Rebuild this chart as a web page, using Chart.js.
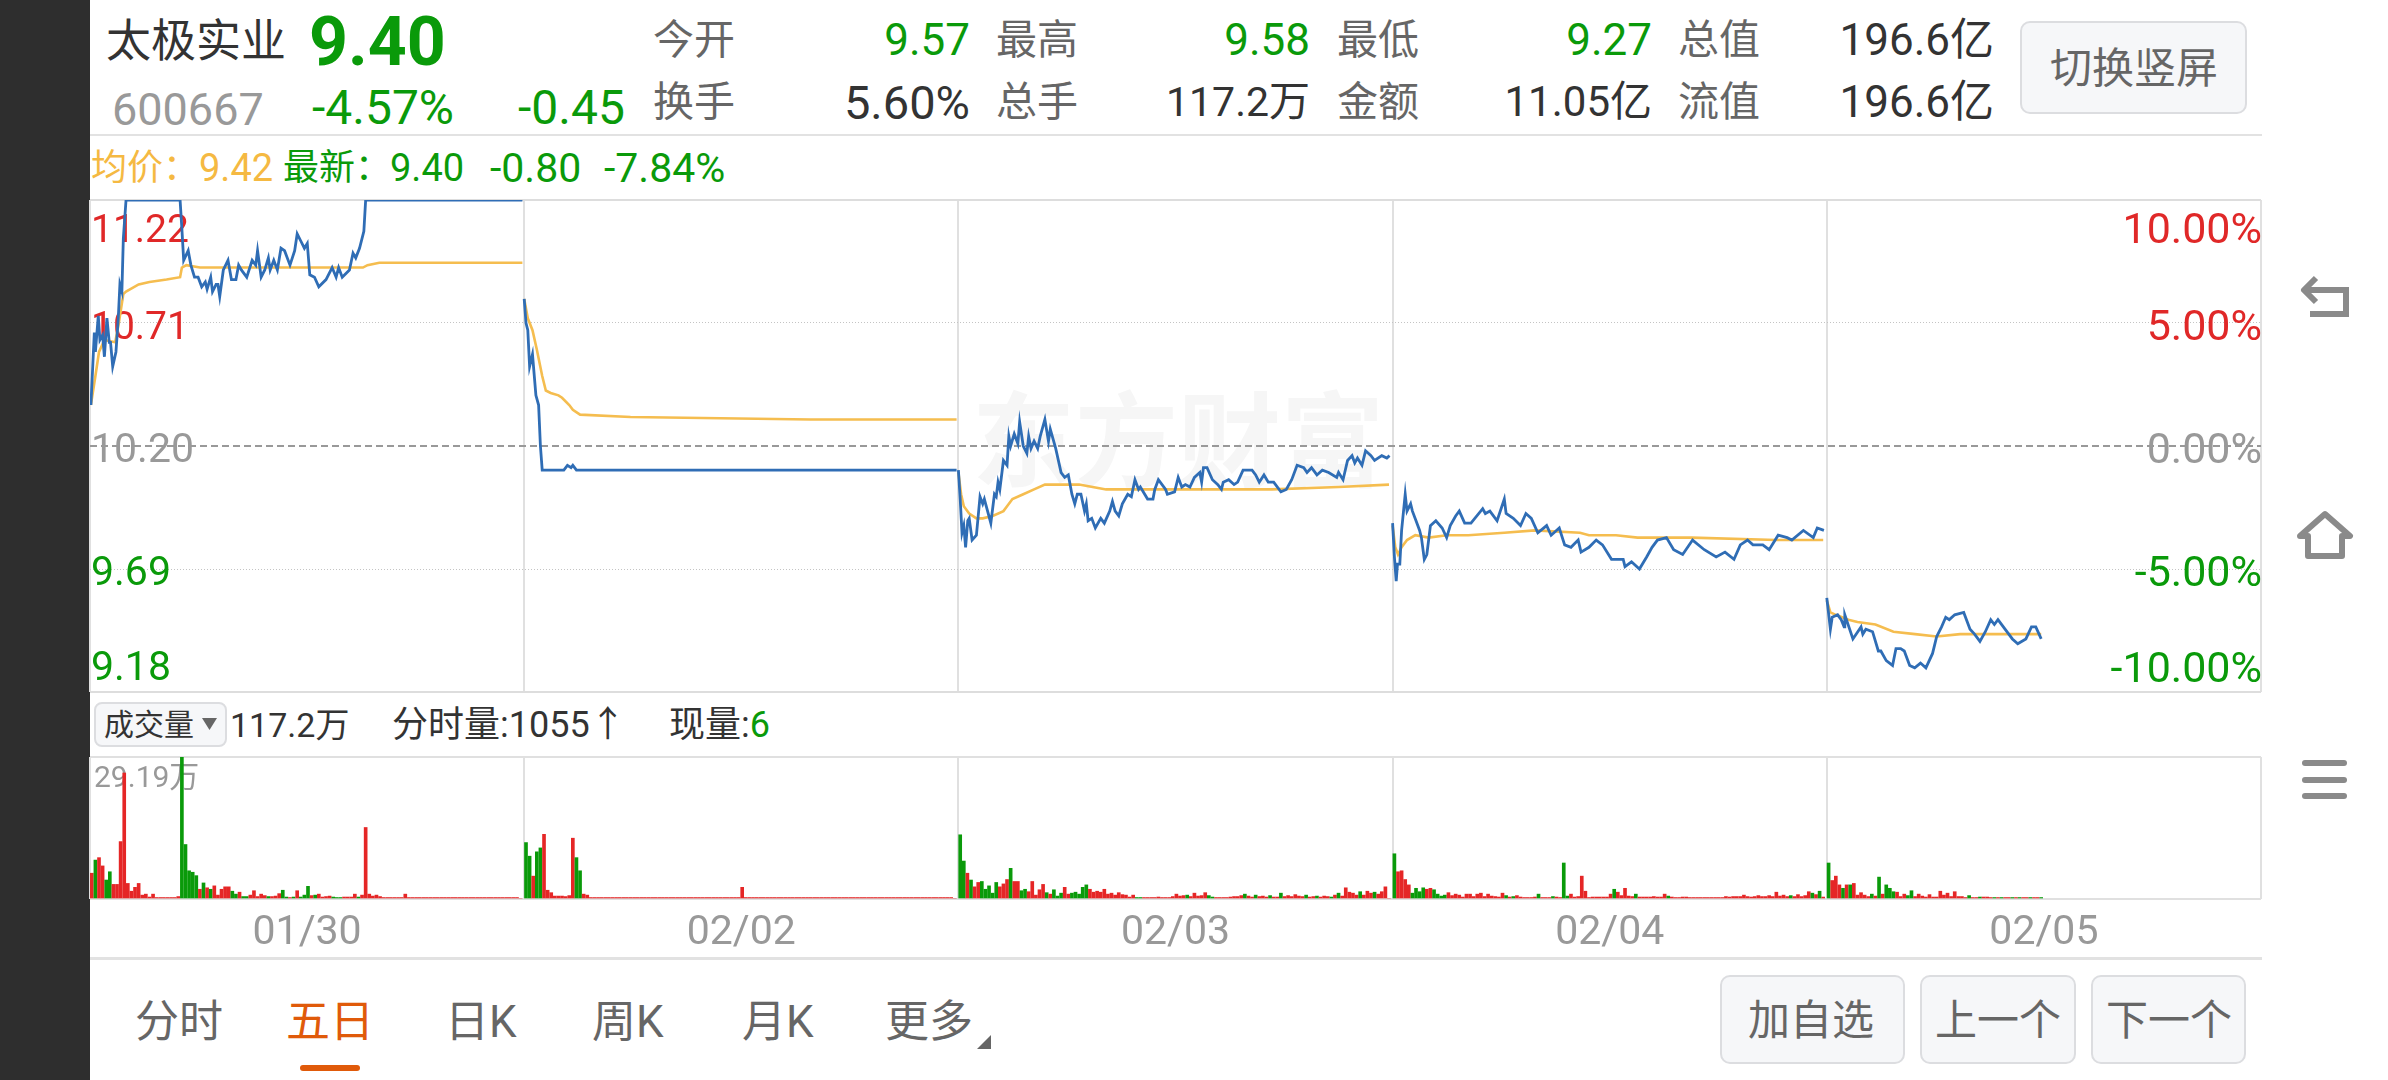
<!DOCTYPE html>
<html>
<head>
<meta charset="utf-8">
<title>太极实业 五日</title>
<script src="https://cdn.jsdelivr.net/npm/chart.js@4"></script>
<style>
html, body { margin: 0; padding: 0; background: #fff; }
body { width: 2388px; height: 1080px; position: relative; overflow: hidden; font-family: Roboto, "Noto Sans CJK SC", sans-serif; }
.t { position: absolute; white-space: nowrap; transform: translateY(-50%); line-height: 1; }
.box { position: absolute; background: #f6f7f9; border: 2px solid #dcdde0; border-radius: 10px; box-sizing: border-box; }
.rule { position: absolute; left: 90px; width: 2172px; height: 2px; background: #e2e2e2; }
.g { color: #0a9a0a; }
.k { color: #333; }
.m { color: #666; }
.s { font-size: 41px; }
.n { font-size: 44px; }
.b { font-size: 44px; }
canvas { position: absolute; }
</style>
</head>
<body>
<div style="position:absolute;left:0;top:0;width:90px;height:1080px;background:#2e2e2e"></div>

<!-- header -->
<div class="t k" style="left:106px;top:41px;font-size:45px">太极实业</div>
<div class="t g" style="left:309px;top:42px;font-size:68px;font-weight:700">9.40</div>
<div class="t" style="left:112px;top:109px;font-size:45px;color:#999">600667</div>
<div class="t g" style="left:312px;top:108px;font-size:48px">-4.57%</div>
<div class="t g" style="left:518px;top:108px;font-size:48px">-0.45</div>

<div class="t m s" style="left:653px;top:40px">今开</div>
<div class="t g n" style="right:1418px;top:40px">9.57</div>
<div class="t m s" style="left:996px;top:40px">最高</div>
<div class="t g n" style="right:1078px;top:40px">9.58</div>
<div class="t m s" style="left:1337px;top:40px">最低</div>
<div class="t g n" style="right:736px;top:40px">9.27</div>
<div class="t m s" style="left:1678px;top:40px">总值</div>
<div class="t k n" style="right:394px;top:40px">196.6亿</div>

<div class="t m s" style="left:653px;top:102px">换手</div>
<div class="t k" style="right:1418px;top:102px;font-size:47px">5.60%</div>
<div class="t m s" style="left:996px;top:102px">总手</div>
<div class="t k" style="right:1078px;top:102px;font-size:41px">117.2万</div>
<div class="t m s" style="left:1337px;top:102px">金额</div>
<div class="t k" style="right:736px;top:102px;font-size:42px">11.05亿</div>
<div class="t m s" style="left:1678px;top:102px">流值</div>
<div class="t k n" style="right:394px;top:102px">196.6亿</div>

<div class="box" style="left:2020px;top:21px;width:227px;height:93px"></div>
<div class="t m" style="left:2050px;top:69px;font-size:42px">切换竖屏</div>

<div class="rule" style="top:134px"></div>

<!-- legend row -->
<div class="t" style="left:91px;top:168px;font-size:36px;color:#f5b942">均价：</div>
<div class="t" style="left:199px;top:168px;font-size:38px;color:#f5b942">9.42</div>
<div class="t g" style="left:283px;top:168px;font-size:36px">最新：</div>
<div class="t g" style="left:390px;top:168px;font-size:38px">9.40</div>
<div class="t g" style="left:490px;top:168px;font-size:41px">-0.80</div>
<div class="t g" style="left:604px;top:168px;font-size:41px">-7.84%</div>

<!-- watermark -->
<div class="t" style="left:972px;top:443px;font-size:103px;font-weight:700;color:#f6f6f6">东方财富</div>

<canvas id="priceChart" style="left:88px;top:198px" width="2175" height="496"></canvas>

<!-- volume header -->
<div class="box" style="left:94px;top:702px;width:133px;height:45px;border-radius:8px"></div>
<div class="t k" style="left:104px;top:725px;font-size:30px">成交量</div>
<svg style="position:absolute;left:202px;top:718px" width="16" height="13"><path d="M0 0H15L7.5 12Z" fill="#666"/></svg>
<div class="t k" style="left:230px;top:725px;font-size:34px">117.2万</div>
<div class="t k" style="left:392px;top:725px;font-size:36px">分时量:1055↑</div>
<div class="t k" style="left:669px;top:725px;font-size:36px">现量:<span class="g">6</span></div>

<canvas id="volumeChart" style="left:88px;top:756px" width="2175" height="200"></canvas>
<div class="rule" style="top:957px;height:3px"></div>

<!-- bottom tabs -->
<div class="t m b" style="left:135px;top:1022px">分时</div>
<div class="t b" style="left:286px;top:1022px;color:#e05a0a">五日</div>
<div class="t m b" style="left:445px;top:1022px">日K</div>
<div class="t m b" style="left:592px;top:1022px">周K</div>
<div class="t m b" style="left:742px;top:1022px">月K</div>
<div class="t m b" style="left:885px;top:1022px">更多</div>
<svg style="position:absolute;left:977px;top:1035px" width="14" height="14"><path d="M14 0V14H0Z" fill="#666"/></svg>
<div style="position:absolute;left:300px;top:1065px;width:60px;height:6px;border-radius:3px;background:#e05a0a"></div>

<div class="box" style="left:1720px;top:975px;width:185px;height:89px"></div>
<div class="t m" style="left:1748px;top:1021px;font-size:42px">加自选</div>
<div class="box" style="left:1920px;top:975px;width:156px;height:89px"></div>
<div class="t m" style="left:1935px;top:1021px;font-size:42px">上一个</div>
<div class="box" style="left:2091px;top:975px;width:155px;height:89px"></div>
<div class="t m" style="left:2106px;top:1021px;font-size:42px">下一个</div>

<!-- system nav icons -->
<svg style="position:absolute;left:2296px;top:270px" width="60" height="290" fill="none" stroke="#8a8a8a" stroke-width="6">
  <path d="M12 20H50V44H14"/>
  <path d="M20 8L8 20L20 32" stroke-linejoin="round"/>
  <path d="M4 266L29 244L54 266H46V286H12V266Z" stroke-linejoin="round"/>
</svg>
<svg style="position:absolute;left:2300px;top:760px" width="50" height="42" fill="#8a8a8a">
  <rect x="2" y="0" width="45" height="6" rx="3"/>
  <rect x="2" y="17" width="45" height="6" rx="3"/>
  <rect x="2" y="33" width="45" height="6" rx="3"/>
</svg>

<script>
const sessionMinutes = 241;
const totalMinutes = 1205;
const basePrice = 10.20;
const maxVolume = 29.19;

const priceTicks = [9.18, 9.69, 10.20, 10.71, 11.22];
const percentTicks = [-10, -5, 0, 5, 10];
const dateLabels = ['01/30', '02/02', '02/03', '02/04', '02/05'];

// [minute, price]
const priceDay1 = [[0.5,10.37],[2.4,10.67],[3,10.59],[4.6,10.74],[5.5,10.64],[7,10.66],[8,10.57],[9.4,10.73],[10.7,10.63],[11.4,10.63],[12.6,10.53],[14.4,10.59],[15.7,10.73],[16.6,10.87],[17.7,10.84],[18.5,11.06],[20,11.22],[50,11.22],[51,11.10],[52,10.97],[54.5,11.01],[56,10.95],[58,10.90],[60,10.90],[62,10.86],[64,10.88],[65,10.85],[67,10.90],[68,10.84],[70,10.87],[71,10.87],[72,10.82],[74,10.93],[76.6,10.97],[78.5,10.89],[81,10.89],[82.5,10.95],[84,10.93],[87,10.90],[90,10.97],[92,10.95],[93,11.01],[95,10.90],[97,10.93],[99,10.98],[100,10.93],[102,10.97],[104,10.93],[106,11.02],[108,11.01],[111,10.95],[113.6,11.01],[115,11.08],[117,11.05],[119,11.02],[120.6,11.04],[122,10.91],[124.6,10.90],[127,10.86],[131,10.89],[134.4,10.94],[136.6,10.90],[138,10.94],[140,10.90],[144,10.93],[146,11.00],[147.5,10.98],[149.6,11.02],[152,11.09],[153,11.22],[240,11.22]];
const priceDay2 = [[241,10.81],[242,10.71],[243,10.68],[244,10.53],[245.6,10.58],[247.5,10.41],[249,10.37],[250,10.20],[251,10.10],[263,10.10],[265,10.12],[267,10.11],[268,10.12],[270,10.10],[481,10.10]];
const priceDay3 = [[482,10.10],[483,9.98],[484,9.84],[485,9.87],[486,9.78],[487.2,9.89],[488,9.90],[489.6,9.81],[492,9.83],[494,9.99],[495.5,9.96],[496.4,9.98],[500,9.88],[502,10.00],[503,9.99],[504,10.05],[505,10.02],[507,10.14],[509,10.12],[510,10.24],[511,10.20],[513,10.25],[515,10.21],[516,10.30],[518,10.20],[520,10.17],[521,10.24],[522.3,10.19],[524,10.22],[526,10.19],[527.4,10.24],[530,10.31],[532,10.22],[533,10.27],[536,10.19],[539,10.09],[541,10.07],[543,10.08],[545,10.00],[546.6,9.96],[548,10.00],[550,10.00],[552,9.93],[553,9.96],[554,9.89],[556,9.90],[558,9.86],[561,9.90],[563,9.88],[566,9.93],[567.5,9.97],[569,9.93],[571,9.91],[573,9.96],[576,10.00],[578,9.99],[580,10.06],[582,10.02],[583,10.03],[587,9.98],[590,9.98],[591,10.02],[593,10.06],[597,10.02],[598,10.00],[602,10.01],[604,10.07],[606,10.03],[608,10.04],[610.5,10.03],[613,10.07],[616,10.09],[617,10.05],[618,10.11],[620,10.11],[623,10.06],[626,10.04],[628,10.02],[629,10.05],[632,10.06],[635,10.04],[637,10.05],[640,10.10],[642.6,10.10],[645,10.10],[647,10.08],[649,10.05],[651.6,10.08],[654,10.05],[657,10.05],[661,10.01],[664,10.02],[667,10.06],[670,10.12],[673.7,10.11],[675.5,10.09],[678,10.11],[681,10.08],[684,10.10],[687.5,10.09],[692,10.07],[693,10.09],[695.5,10.06],[698,10.14],[700.5,10.16],[702,10.13],[703.5,10.15],[706,10.12],[708,10.18],[711,10.16],[713,10.14],[717,10.16],[719.8,10.15],[721.3,10.16]];
const priceDay4 = [[723,9.88],[724,9.74],[725,9.64],[725.7,9.71],[727,9.71],[728,9.85],[730,10.00],[731,9.93],[733,9.96],[734,9.93],[736,9.89],[738,9.85],[739,9.82],[740.6,9.73],[742,9.75],[744,9.87],[747,9.89],[750.5,9.86],[753,9.82],[755,9.87],[758,9.91],[760,9.93],[763,9.88],[766.5,9.88],[773,9.94],[774.5,9.92],[777,9.93],[781,9.89],[785,9.98],[786,9.92],[790,9.90],[794,9.87],[797,9.92],[800,9.90],[803.6,9.84],[808.5,9.87],[811,9.83],[815.5,9.86],[818.5,9.79],[822,9.78],[826,9.81],[827.6,9.76],[832,9.78],[836,9.81],[839.5,9.79],[844.5,9.73],[851,9.73],[852,9.70],[855.6,9.72],[860,9.69],[864,9.74],[867,9.78],[870,9.81],[875,9.82],[879,9.77],[884,9.75],[889.5,9.81],[896,9.77],[902.6,9.74],[907.5,9.76],[912.5,9.73],[916,9.79],[920,9.81],[923,9.79],[928.5,9.79],[932,9.77],[937,9.83],[942,9.82],[944.6,9.81],[951,9.85],[956.5,9.82],[958.7,9.86],[962.4,9.85]];
const priceDay5 = [[964,9.57],[966,9.44],[967,9.49],[970,9.50],[972,9.48],[973.6,9.45],[974,9.50],[978.5,9.40],[983,9.45],[984,9.42],[985.7,9.44],[989.4,9.43],[992.6,9.35],[994,9.35],[997,9.31],[1000.5,9.29],[1002.4,9.36],[1005,9.36],[1007,9.35],[1010,9.29],[1012.8,9.28],[1016,9.30],[1019,9.28],[1022.7,9.34],[1025,9.41],[1027.7,9.45],[1030,9.49],[1032,9.48],[1035,9.50],[1040,9.51],[1043.5,9.44],[1046,9.42],[1049,9.39],[1052,9.43],[1055,9.48],[1057,9.46],[1059,9.48],[1062,9.45],[1067,9.40],[1070,9.38],[1074.5,9.40],[1077.6,9.45],[1080,9.45],[1083,9.40]];

const avgDay1 = [[0.5,10.37],[3,10.49],[5,10.59],[8,10.64],[14,10.63],[16,10.71],[18.5,10.83],[20,10.84],[27,10.87],[33,10.88],[42.5,10.89],[50,10.90],[51,10.94],[53.5,10.95],[61,10.94],[72,10.94],[94,10.94],[131,10.94],[151.5,10.94],[154,10.95],[160.6,10.96],[186.5,10.96],[240,10.96]];
const avgDay2 = [[241,10.81],[243,10.73],[245.6,10.68],[248,10.60],[251,10.49],[253,10.43],[255.7,10.42],[260,10.41],[262,10.40],[266,10.37],[268,10.35],[272,10.33],[300,10.32],[400,10.31],[481,10.31]];
const avgDay3 = [[482,10.09],[483.5,10.00],[485,9.95],[488,9.92],[492,9.90],[495.5,9.90],[501,9.91],[507,9.93],[509,9.95],[512,9.98],[518,10.00],[524,10.02],[530,10.04],[535,10.04],[542,10.04],[549,10.04],[556.5,10.03],[564,10.02],[573,10.02],[586,10.02],[619,10.02],[656,10.02],[693,10.03],[721,10.04]];
const avgDay4 = [[723,9.87],[724.5,9.78],[726,9.75],[728,9.78],[731,9.81],[735.6,9.83],[743,9.82],[753,9.83],[765,9.83],[785,9.84],[802,9.85],[827,9.84],[832,9.83],[847,9.83],[859,9.82],[889,9.82],[936,9.81],[962,9.81]];
const avgDay5 = [[964,9.56],[966,9.51],[969,9.50],[976,9.48],[981,9.47],[991,9.46],[1001,9.43],[1013,9.42],[1025,9.41],[1038,9.42],[1062,9.42],[1083,9.42]];

// volume in 万 per two minutes, minus means a down bar (green)
const volumeDay1 = [5.3,-8.0,8.5,6.8,-3.9,-5.6,3.0,3.0,11.8,25.9,3.2,1.6,2.4,3.2,0.8,1.0,0.4,1.0,0.3,0.3,0.3,0.3,0.3,0.3,0.5,-29.19,-11.2,-5.8,-5.5,-4.8,2.0,-3.3,2.3,-2.0,2.7,0.8,2.0,2.5,2.5,-1.6,-1.0,1.4,-0.5,-0.5,0.8,1.7,0.5,1.0,0.7,-0.5,0.5,0.6,1.1,-1.8,-0.4,0.3,-0.4,1.7,-0.4,-0.8,-2.6,0.7,-0.8,1.0,0.4,0.5,0.6,-0.4,-0.3,-0.3,0.4,0.4,0.4,1.0,-0.4,0.8,14.7,1.0,0.6,0.8,0.5,0.3,0.3,0.3,0.3,0.3,0.3,1.0,0.3,0.3,0.3,0.3,0.3,0.3,0.3,0.3,0.3,0.3,0.3,0.3,0.3,0.3,0.3,0.3,0.3,0.3,0.3,0.3,0.3,0.3,0.3,0.3,0.3,0.3,0.3,0.3,0.3,0.3,0.3,0];
const volumeDay2 = [-11.6,-8.8,4.7,-9.7,-10.5,13.3,1.8,1.3,0.6,0.6,0.6,0.5,0.7,12.5,-8.5,-5.8,1.0,0.8,0.3,0.3,0.3,0.3,0.3,0.3,0.3,0.3,0.3,0.3,0.3,0.3,0.3,0.3,0.3,0.3,0.3,0.3,0.3,0.3,0.3,0.3,0.3,0.3,0.3,0.3,0.3,0.3,0.3,0.3,0.3,0.3,0.3,0.3,0.3,0.3,0.3,0.3,0.3,0.3,0.3,0.3,2.4,0.3,0.3,0.3,0.3,0.3,0.3,0.3,0.3,0.3,0.3,0.3,0.3,0.3,0.3,0.3,0.3,0.3,0.3,0.3,0.3,0.3,0.3,0.3,0.3,0.3,0.3,0.3,0.3,0.3,0.3,0.3,0.3,0.3,0.3,0.3,0.3,0.3,0.3,0.3,0.3,0.3,0.3,0.3,0.3,0.3,0.3,0.3,0.3,0.3,0.3,0.3,0.3,0.3,0.3,0.3,0.3,0.3,0.3,0];
const volumeDay3 = [-13.2,-7.8,5.3,-3.9,2.5,3.4,-3.6,-2.0,-2.7,-1.2,-3.4,2.5,3.1,4.0,-6.3,3.6,3.6,-1.7,-2.0,1.5,3.6,0.8,1.9,3.0,-1.3,1.0,-1.9,-0.6,-1.2,2.4,1.0,-1.2,-1.4,-1.0,-2.4,-2.9,2.0,1.4,1.6,1.4,2.0,1.0,1.2,0.8,1.3,0.9,0.8,0.4,0.8,-0.3,-0.3,0.3,0.3,0.3,0.3,0.4,0.3,0.3,0.3,0.5,1.0,0.6,0.7,-0.8,0.5,1.2,0.6,0.7,1.3,-0.7,-0.4,0.3,0.3,0.3,0.3,0.4,0.5,0.5,0.7,-1.0,0.6,0.4,-0.8,0.5,0.6,0.4,-0.7,0.4,0.4,-1.2,0.5,0.7,0.5,0.9,0.6,0.5,-0.8,0.4,0.5,-0.6,0.4,0.6,0.5,-0.4,0.8,-1.2,0.6,2.3,1.4,1.2,0.8,-1.5,0.8,1.6,1.2,-1.4,1.0,1.5,2.5,0];
const volumeDay4 = [-9.3,5.6,5.8,4.0,2.9,-1.2,-2.2,-1.5,-2.3,2.0,2.2,-1.9,-1.0,-0.6,-0.8,1.3,0.7,1.0,0.8,0.4,1.0,1.0,0.5,1.0,1.2,0.5,1.0,0.6,0.5,0.4,1.2,-0.7,0.4,-0.5,0.7,0.4,0.3,0.3,0.3,0.4,-1.0,0.3,0.3,0.3,-0.5,0.4,0.3,-7.4,-0.6,1.0,0.4,0.5,4.7,1.6,0.3,0.4,0.4,0.4,0.4,0.4,1.0,-2.0,1.4,0.7,2.2,0.6,0.5,-1.0,0.4,0.4,0.4,0.4,0.5,0.4,0.4,1.0,-0.6,0.4,0.3,0.3,0.4,0.4,0.3,0.3,0.3,0.3,0.3,0.3,0.3,0.3,0.3,0.3,0.5,0.4,0.5,0.5,0.5,0.8,0.5,0.4,0.5,0.7,0.5,0.5,0.7,0.5,1.4,0.6,0.8,0.5,-0.7,0.5,0.9,0.5,0.7,1.5,-1.2,0.9,-1.6,0.4];
const volumeDay5 = [-7.4,3.8,4.7,2.9,-2.2,2.9,-2.9,3.2,0.8,1.3,0.8,0.5,-1.0,0.6,-4.5,1.0,-2.9,-2.2,-1.5,1.4,0.5,1.0,-0.7,-1.7,0.5,1.0,0.6,0.4,0.9,0.4,0.4,1.6,0.8,1.2,0.5,1.5,0.5,0.5,0.3,-0.7,0.3,0.3,-0.4,0.4,0.4,0.3,-0.3,0.3,-0.3,0.3,0.3,-0.3,0.3,-0.3,0.3,0.3,-0.3,0.3,0.3,-0.3];

const priceDays = [priceDay1, priceDay2, priceDay3, priceDay4, priceDay5];
const avgDays = [avgDay1, avgDay2, avgDay3, avgDay4, avgDay5];
const volumeDays = [volumeDay1, volumeDay2, volumeDay3, volumeDay4, volumeDay5];

const RED = '#e52626';
const GREEN = '#0a9a0a';
const GREY = '#999999';
const GRID = '#e0e0e0';

// days are joined with a null point so the line breaks between sessions
function toLinePoints (days) {
    let points = [];
    days.forEach((day, d) => {
        day.forEach(p => points.push({x: p[0], y: p[1]}));
        if (d < days.length - 1) points.push({x: (d + 1) * sessionMinutes - 0.5, y: null});
    });
    return points;
}

function toVolumePoints () {
    let points = [];
    volumeDays.forEach((day, d) => {
        day.forEach((v, i) => points.push({x: d * sessionMinutes + 2 * i + 1, y: Math.abs(v), down: v < 0}));
    });
    return points;
}

const dayBounds = [0, 1, 2, 3, 4, 5].map(d => d * sessionMinutes);
const dayMiddles = dateLabels.map((_, d) => (d + 0.5) * sessionMinutes);

// mirrored labels lie inside the plot, the axes must not take room from it
function fitInside (width, height) {
    return scale => {
        scale.paddingTop = 0;
        scale.paddingBottom = 0;
        scale.paddingLeft = 0;
        scale.paddingRight = 0;
        if (width !== null) scale.width = width;
        if (height !== null) scale.height = height;
    };
}

function setTicks (values) {
    return scale => { scale.ticks = values.map(value => ({value})); };
}

function signColor (value, zero) {
    if (value > zero) return '#e02828';
    if (value < zero) return GREEN;
    return GREY;
}

// first and last labels sit inside the plot, an empty line pushes them in
function insetLabel (text, value, values) {
    if (value === values[values.length - 1]) return ['', text];
    if (value === values[0]) return [text, ''];
    return text;
}

function isDotted (value) {
    return value === 9.69 || value === 10.71;
}

const fontFamily = 'Roboto, "Noto Sans CJK SC", sans-serif';
const canvasPadding = {left: 2, right: 2, top: 2, bottom: 2};

new Chart(document.getElementById('priceChart'), {
    type: 'line',
    data: {
        datasets: [
            {data: toLinePoints(avgDays), borderColor: '#f5bd4f', borderWidth: 2.6, pointRadius: 0, tension: 0, yAxisID: 'y', order: 2},
            {data: toLinePoints(priceDays), borderColor: '#2f6db5', borderWidth: 2.8, pointRadius: 0, tension: 0, yAxisID: 'y', order: 1}
        ]
    },
    options: {
        responsive: false,
        animation: false,
        events: [],
        layout: {padding: canvasPadding},
        plugins: {legend: {display: false}, tooltip: {enabled: false}},
        scales: {
            x: {
                type: 'linear',
                min: 0,
                max: totalMinutes,
                afterBuildTicks: setTicks(dayBounds),
                afterFit: fitInside(null, 0),
                border: {display: false},
                grid: {color: GRID, lineWidth: 2, drawTicks: false},
                ticks: {display: false}
            },
            y: {
                min: priceTicks[0],
                max: priceTicks[priceTicks.length - 1],
                afterBuildTicks: setTicks(priceTicks),
                afterFit: fitInside(0, null),
                border: {
                    display: false,
                    dash: ctx => {
                        if (ctx.tick.value === basePrice) return [7, 4];
                        if (isDotted(ctx.tick.value)) return [1, 2];
                        return [];
                    }
                },
                grid: {
                    drawTicks: false,
                    color: ctx => ctx.tick.value === basePrice ? '#999999' : isDotted(ctx.tick.value) ? '#c4c4c4' : '#dddddd',
                    lineWidth: ctx => isDotted(ctx.tick.value) ? 1 : 2
                },
                ticks: {
                    mirror: true,
                    autoSkip: false,
                    padding: 1,
                    labelOffset: 6,
                    font: ctx => ({family: fontFamily, size: ctx.tick && ctx.tick.value > basePrice ? 39 : 41, lineHeight: 1.36}),
                    color: ctx => signColor(ctx.tick.value, basePrice),
                    callback: v => insetLabel(v.toFixed(2), v, priceTicks)
                }
            },
            yPercent: {
                position: 'right',
                min: percentTicks[0],
                max: percentTicks[percentTicks.length - 1],
                afterBuildTicks: setTicks(percentTicks),
                afterFit: fitInside(0, null),
                border: {display: false},
                grid: {display: false, drawTicks: false},
                ticks: {
                    mirror: true,
                    autoSkip: false,
                    padding: 1,
                    labelOffset: 6,
                    font: {family: fontFamily, size: 43, lineHeight: 1.24},
                    color: ctx => signColor(ctx.tick.value, 0),
                    callback: v => insetLabel(v.toFixed(2) + '%', v, percentTicks)
                }
            }
        }
    }
});

new Chart(document.getElementById('volumeChart'), {
    type: 'bar',
    data: {
        datasets: [{
            data: toVolumePoints(),
            barThickness: 3,
            grouped: false,
            backgroundColor: ctx => ctx.raw && ctx.raw.down ? GREEN : RED
        }]
    },
    options: {
        responsive: false,
        animation: false,
        events: [],
        layout: {padding: {left: 2, right: 2, top: 1, bottom: 0}},
        plugins: {legend: {display: false}, tooltip: {enabled: false}},
        scales: {
            x: {
                type: 'linear',
                offset: false,
                min: 0,
                max: totalMinutes,
                afterBuildTicks: setTicks(dayBounds.concat(dayMiddles).sort((a, b) => a - b)),
                afterFit: fitInside(null, 57),
                border: {display: false},
                grid: {
                    offset: false,
                    drawTicks: false,
                    lineWidth: 2,
                    color: ctx => ctx.tick && dayMiddles.includes(ctx.tick.value) ? 'rgba(0,0,0,0)' : GRID
                },
                ticks: {
                    autoSkip: false,
                    maxRotation: 0,
                    padding: 10,
                    color: GREY,
                    font: {family: fontFamily, size: 41},
                    callback: v => {
                        let d = dayMiddles.indexOf(v);
                        return d < 0 ? '' : dateLabels[d];
                    }
                }
            },
            y: {
                min: 0,
                max: maxVolume,
                afterBuildTicks: setTicks([0, maxVolume]),
                afterFit: fitInside(0, null),
                border: {display: false},
                grid: {drawTicks: false, color: GRID, lineWidth: 2},
                ticks: {
                    mirror: true,
                    autoSkip: false,
                    padding: 4,
                    labelOffset: 3,
                    color: GREY,
                    font: {family: fontFamily, size: 30, lineHeight: 1.33},
                    callback: v => v === 0 ? '' : ['', v.toFixed(2) + '万']
                }
            }
        }
    }
});
</script>
</body>
</html>
